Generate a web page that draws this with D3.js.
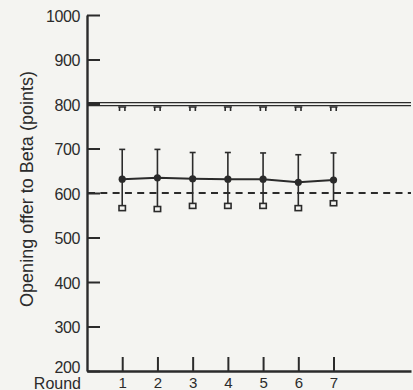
<!DOCTYPE html>
<html>
<head>
<meta charset="utf-8">
<script src="https://cdn.jsdelivr.net/npm/d3@7"></script>
<style>
  html, body { margin: 0; padding: 0; background: #f4f4f1; }
  svg { display: block; }
  text { font-family: "Liberation Sans", Arial, Helvetica, sans-serif; fill: #2b2b2b; }
</style>
</head>
<body>
<svg id="chart" width="413" height="390"></svg>
<script>
// Opening offers to Beta, by round
const rounds = [1, 2, 3, 4, 5, 6, 7];
const meanOffer = [631, 634, 632, 631, 631, 624, 629];
const upperBar = [698, 698, 691, 691, 690, 686, 690];
const lowerBar = [566, 564, 571, 571, 571, 566, 577];
const maxOffer = [800, 800, 800, 800, 800, 800, 800];
const yTicks = [200, 300, 400, 500, 600, 700, 800, 900, 1000];
const equalSplit = 600;
const fullAmount = 800;

const ink = "#2b2b2b";
const svg = d3.select("#chart");

const x = d3.scaleLinear().domain([0, 9.2]).range([87, 411]);
const y = d3.scaleLinear().domain([200, 1000]).range([371, 15]);

const rows = rounds.map((r, i) => ({
  r, mean: meanOffer[i], hi: upperBar[i], lo: lowerBar[i], max: maxOffer[i]
}));

// Y axis with inward ticks
const yAxis = svg.append("g")
  .attr("transform", `translate(${x(0)},0)`)
  .call(d3.axisLeft(y).tickValues(yTicks).tickFormat(d3.format("d"))
    .tickSizeInner(-13).tickSizeOuter(0).tickPadding(7));
yAxis.select(".domain").attr("stroke", ink).attr("stroke-width", 2.4);
yAxis.selectAll(".tick line").attr("stroke", ink).attr("stroke-width", 2);
yAxis.selectAll(".tick text")
  .attr("font-size", 16).attr("fill", ink).attr("letter-spacing", "-0.4")
  .attr("dy", d => d === 200 ? "0.1em" : "0.38em");

// X axis with inward ticks
const xAxis = svg.append("g")
  .attr("transform", `translate(0,${y(200)})`)
  .call(d3.axisBottom(x).tickValues(rounds).tickSizeInner(-14).tickSizeOuter(0).tickPadding(6));
xAxis.select(".domain").attr("stroke", ink).attr("stroke-width", 2.4);
xAxis.selectAll(".tick line").attr("stroke", ink).attr("stroke-width", 2);
xAxis.selectAll(".tick text").attr("font-size", 15).attr("fill", ink);

svg.append("text")
  .attr("x", 81).attr("y", 388.5)
  .attr("text-anchor", "end").attr("font-size", 16)
  .text("Round");

svg.append("text")
  .attr("transform", `translate(33,189) rotate(-90)`)
  .attr("text-anchor", "middle").attr("font-size", 18)
  .text("Opening offer to Beta (points)");

// Equal-split reference (dashed)
svg.append("line")
  .attr("x1", x(0)).attr("x2", x(9.2))
  .attr("y1", y(equalSplit)).attr("y2", y(equalSplit))
  .attr("stroke", ink).attr("stroke-width", 1.8)
  .attr("stroke-dasharray", "7,5.3").attr("stroke-dashoffset", -1);

// Maximum offer markers just under the 800 line
svg.append("g").selectAll("path").data(rows).join("path")
  .attr("d", d => {
    const cx = x(d.r), cy = y(d.max) + 3;
    return `M${cx - 4},${cy}H${cx + 4}M${cx - 2.7},${cy}V${cy + 4}M${cx + 2.7},${cy}V${cy + 4}`;
  })
  .attr("fill", "none").attr("stroke", ink).attr("stroke-width", 1.6);

// Full-amount double line
const yf = y(fullAmount);
svg.append("rect")
  .attr("x", x(0)).attr("y", yf - 2).attr("width", 13).attr("height", 4).attr("fill", ink);
[-1.4, 1.6].forEach(off => {
  svg.append("line")
    .attr("x1", x(0)).attr("x2", x(9.2))
    .attr("y1", yf + off).attr("y2", yf + off)
    .attr("stroke", ink).attr("stroke-width", 1.3);
});

// Error bars
const bars = svg.append("g");
bars.selectAll("line.bar").data(rows).join("line").attr("class", "bar")
  .attr("x1", d => x(d.r)).attr("x2", d => x(d.r))
  .attr("y1", d => y(d.hi)).attr("y2", d => y(d.lo))
  .attr("stroke", ink).attr("stroke-width", 1.6);
bars.selectAll("line.cap").data(rows).join("line").attr("class", "cap")
  .attr("x1", d => x(d.r) - 3).attr("x2", d => x(d.r) + 3)
  .attr("y1", d => y(d.hi)).attr("y2", d => y(d.hi))
  .attr("stroke", ink).attr("stroke-width", 1.6);
bars.selectAll("rect.low").data(rows).join("rect").attr("class", "low")
  .attr("x", d => x(d.r) - 3.2).attr("y", d => y(d.lo) - 2.5)
  .attr("width", 6.4).attr("height", 5)
  .attr("fill", "#f4f4f1").attr("stroke", ink).attr("stroke-width", 1.6);

// Mean line and points
svg.append("path").datum(rows)
  .attr("d", d3.line().x(d => x(d.r)).y(d => y(d.mean)))
  .attr("fill", "none").attr("stroke", ink).attr("stroke-width", 2);
svg.append("g").selectAll("circle").data(rows).join("circle")
  .attr("cx", d => x(d.r)).attr("cy", d => y(d.mean)).attr("r", 3.6)
  .attr("fill", ink);
</script>
</body>
</html>
